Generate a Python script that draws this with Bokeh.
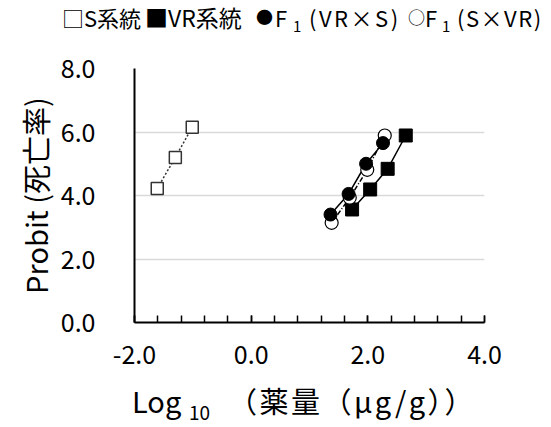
from bokeh.plotting import figure
from bokeh.models import Range1d, FixedTicker, Div
from bokeh.layouts import column
from bokeh.embed import file_html
from bokeh.resources import INLINE

# Data (log10 dose, probit)
s_x = [-1.61, -1.30, -1.01]
s_y = [4.22, 5.20, 6.15]
vr_x = [1.73, 2.04, 2.34, 2.65]
vr_y = [3.56, 4.19, 4.84, 5.89]
f1a_x = [1.36, 1.67, 1.97, 2.26]   # F1 (VR x S)
f1a_y = [3.40, 4.05, 5.00, 5.65]
f1b_x = [1.38, 1.69, 1.99, 2.29]   # F1 (S x VR)
f1b_y = [3.14, 3.93, 4.81, 5.89]

x_major = [-2, 0, 2, 4]
x_minor = [-2 + 0.4 * k for k in range(16)]
y_major = [0, 2, 4, 6, 8]

# legend text line pieces
legend_texts = ["□S系統", "■VR系統", "●", "F", "1", "(VR×S)", "○", "F", "1", "(S×VR)"]
x_title_parts = ["Log", "10", "（薬量（μg/g））"]
y_title = "Probit (死亡率)"

FONT = "Noto Sans CJK JP"
W, H = 551, 427
LEG_H, XT_H = 35, 47
PH = H - LEG_H - XT_H
L, R = 134, 67
T = 68 - LEG_H
B = PH - (322 - LEG_H)

p = figure(width=W, height=PH, output_backend="svg", toolbar_location=None,
           x_range=Range1d(-2, 4), y_range=Range1d(0, 8),
           min_border_left=L, min_border_right=R, min_border_top=T, min_border_bottom=B)
p.outline_line_color = None
p.background_fill_color = "white"
p.border_fill_color = "white"

# axes
xa = p.xaxis[0]
xa.ticker = FixedTicker(ticks=x_major, minor_ticks=x_minor)
xa.major_label_overrides = {v: f"{v:.1f}" for v in x_major}
xa.major_label_text_font = FONT
xa.major_label_text_font_size = "25px"
xa.major_label_text_color = "black"
xa.major_label_standoff = 22
xa.major_tick_in = 7
xa.major_tick_out = 0
xa.minor_tick_in = 7
xa.minor_tick_out = 0
xa.major_tick_line_color = "black"
xa.minor_tick_line_color = "black"
xa.major_tick_line_width = 1.5
xa.minor_tick_line_width = 1.5
xa.axis_line_color = "black"
xa.axis_line_width = 2

ya = p.yaxis[0]
ya.ticker = FixedTicker(ticks=y_major)
ya.major_label_overrides = {v: f"{v:.1f}" for v in y_major}
ya.major_label_text_font = FONT
ya.major_label_text_font_size = "25px"
ya.major_label_text_color = "black"
ya.major_label_standoff = 39
ya.major_tick_in = 0
ya.major_tick_out = 0
ya.minor_tick_line_color = None
ya.axis_line_color = "black"
ya.axis_line_width = 2
ya.axis_label = y_title
ya.axis_label_text_font = FONT
ya.axis_label_text_font_size = "29px"
ya.axis_label_text_font_style = "normal"
ya.axis_label_text_color = "black"
ya.axis_label_standoff = 2

p.xgrid.grid_line_color = None
p.ygrid.grid_line_color = "#d9d9d9"
p.ygrid.grid_line_width = 1.5

# series lines
p.line(s_x, s_y, line_color="#333333", line_width=1.5, line_dash="2 2")
p.line(vr_x, vr_y, line_color="black", line_width=1.5)
p.line(f1b_x, f1b_y, line_color="black", line_width=1.5, line_dash="5 2 1 2")
p.line(f1a_x, f1a_y, line_color="black", line_width=1.5)

p.scatter(s_x, s_y, marker="square", size=12, fill_color="white",
          line_color="#333333", line_width=1.5)
p.scatter(vr_x, vr_y, marker="square", size=13, fill_color="black",
          line_color="black", line_width=1)
p.scatter(f1b_x, f1b_y, marker="circle", size=13, fill_color="white",
          line_color="black", line_width=1.2)
p.scatter(f1a_x, f1a_y, marker="circle", size=13, fill_color="black",
          line_color="black", line_width=1)

# ---- legend line (text box above the chart) ----
# layout for each legend piece: (left px, font px, top px, line-height px, letter-spacing px)
leg_layout = [(62, 22, 1, 32, 0), (145, 23, 1, 32, 0), (256, 17, 1, 32, 0), (275, 22, 1, 32, 0),
              (293, 15, 18, 15, 0), (309, 22, 1, 32, 2.5), (408, 17, 1, 32, 0), (425, 22, 1, 32, 0),
              (442, 15, 18, 15, 0), (457, 22, 1, 32, 1.5)]
spans = []
for txt, (lx, fs, tp, lh, ls) in zip(legend_texts, leg_layout):
    spans.append(
        f"<span style=\"position:absolute;white-space:nowrap;font-family:'{FONT}';color:black;"
        f"line-height:{lh}px;left:{lx}px;top:{tp}px;font-size:{fs}px;letter-spacing:{ls}px\">{txt}</span>")
legend_div = Div(text=f"<div style='position:relative;width:{W}px;height:{LEG_H}px'>" + "".join(spans) + "</div>",
                 width=W, height=LEG_H, margin=0)

# ---- x axis title ----
xt_layout = [(132, 29, 6, 0), (189, 19, 22, 0), (228, 29, 6, 2.5)]
xspans = []
for txt, (lx, fs, tp, ls) in zip(x_title_parts, xt_layout):
    xspans.append(
        f"<span style=\"position:absolute;white-space:nowrap;font-family:'{FONT}';color:black;"
        f"left:{lx}px;top:{tp}px;font-size:{fs}px;line-height:{fs}px;letter-spacing:{ls}px\">{txt}</span>")
xt_div = Div(text=f"<div style='position:relative;width:{W}px;height:{XT_H}px'>" + "".join(xspans) + "</div>",
             width=W, height=XT_H, margin=0)

layout = column(legend_div, p, xt_div, spacing=0)

open("out.html", "w").write(file_html(layout, INLINE))
